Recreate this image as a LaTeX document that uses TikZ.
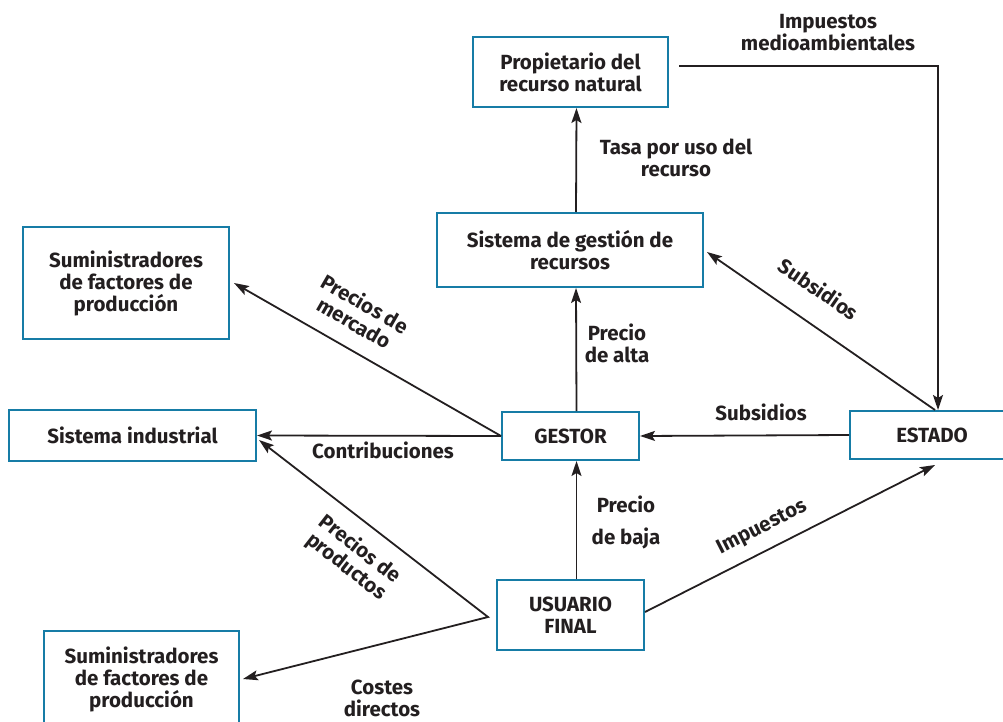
\documentclass[tikz,border=0pt]{standalone}
\usepackage{fontspec}
\setmainfont{Fira Sans}
\usetikzlibrary{arrows.meta}
\definecolor{azulcaja}{RGB}{22,124,166}
\definecolor{tinta}{RGB}{35,31,32}
\tikzset{
  punta/.tip={Stealth[length=15pt,width=10pt,inset=3pt]},
  caja/.style={draw=azulcaja, line width=2pt, fill=white, align=center, text=tinta,
    font=\bfseries\fontsize{20.5}{22}\selectfont, inner sep=0pt},
  etiq/.style={align=center, text=tinta, font=\bfseries\fontsize{20.5}{22}\selectfont, inner sep=0pt},
  flecha/.style={draw=tinta, line width=1.8pt, -punta},
}
\begin{document}
\begin{tikzpicture}[x=1pt,y=-1pt]
\useasboundingbox (0,0) rectangle (1003,722);
% cajas
\node[caja, minimum width=195pt, minimum height=70pt] (prop) at (570.5,72) {Propietario del\\recurso natural};
\node[caja, minimum width=266pt, minimum height=74pt] (sgr) at (570,250) {Sistema de gesti\'on de\\recursos};
\node[caja, minimum width=206pt, minimum height=112pt] (sumA) at (126,283) {Suministradores\\de factores de\\producci\'on};
\node[caja, minimum width=247pt, minimum height=51pt] (sind) at (132.5,435.5) {Sistema industrial};
\node[caja, minimum width=137pt, minimum height=48pt] (gestor) at (570.5,436) {GESTOR};
\node[caja, minimum width=164pt, minimum height=48pt] (estado) at (932,435) {ESTADO};
\node[caja, minimum width=147pt, minimum height=70pt] (usuario) at (570.5,615) {USUARIO\\FINAL};
\node[caja, minimum width=195pt, minimum height=96pt] (sumB) at (141.5,679) {Suministradores\\de factores de\\producci\'on};
\coordinate (nudo) at (488,617);
% flechas
\draw[flecha] ([xshift=6pt]gestor.north) -- ([xshift=6pt]sgr.south);
\draw[flecha] ([xshift=6pt]sgr.north) -- ([xshift=6pt]prop.south);
\draw[flecha] ([xshift=10pt,yshift=6pt]prop.east) -| ([xshift=6pt]estado.north);
\draw[flecha] ([xshift=3pt]estado.north) -- ([xshift=3pt,yshift=-2pt]sgr.east);
\draw[flecha] (estado.west) -- (gestor.east);
\draw[flecha] (gestor.west) -- (sind.east);
\draw[flecha] (gestor.west) -- ([xshift=4pt]sumA.east);
\draw[flecha] ([xshift=6pt]usuario.north) -- ([xshift=6pt]gestor.south);
\draw[flecha] ([yshift=3pt]usuario.east) -- ([xshift=3pt,yshift=-5pt]estado.south);
\draw[flecha, punta-punta] ([xshift=2pt,yshift=-4.5pt]sind.east) -- (nudo) -- ([xshift=3pt]sumB.east);
% etiquetas
\node[etiq] (limp) at (828,33) {Impuestos\\medioambientales};
\node[etiq] (ltasa) at (676,158) {Tasa por uso del\\recurso};
\node[etiq, rotate=-34.5] (lsub1) at (819,289) {Subsidios};
\node[etiq, rotate=-30] (lmerc) at (360,313) {Precios de\\mercado};
\node[etiq] (lalta) at (617,343) {Precio\\de alta};
\node[etiq] (lsub2) at (761,412) {Subsidios};
\node[etiq] (lcontr) at (383,450) {Contribuciones};
\node[etiq] (lbaja) at (626,522) {Precio\\[10pt]de baja};
\node[etiq, rotate=27] (limp2) at (762,528) {Impuestos};
\node[etiq, rotate=-38] (lprod) at (353,558) {Precios de\\productos};
\node[etiq] (lcost) at (382,698) {Costes\\directos};
\end{tikzpicture}
\end{document}
